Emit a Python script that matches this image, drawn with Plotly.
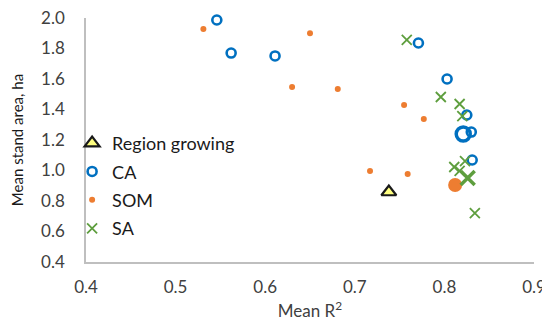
import plotly.graph_objects as go

# Data
rg_x = [0.738]
rg_y = [0.859]

ca_x = [0.546, 0.562, 0.611, 0.771, 0.803, 0.825, 0.830, 0.831]
ca_y = [1.987, 1.770, 1.751, 1.836, 1.600, 1.364, 1.252, 1.069]
ca_best_x = [0.821]
ca_best_y = [1.239]

som_x = [0.531, 0.650, 0.630, 0.681, 0.755, 0.777, 0.717, 0.759]
som_y = [1.928, 1.900, 1.548, 1.534, 1.430, 1.338, 0.997, 0.977]
som_best_x = [0.812]
som_best_y = [0.905]

sa_x = [0.758, 0.796, 0.817, 0.820, 0.823, 0.811, 0.817, 0.834]
sa_y = [1.856, 1.482, 1.436, 1.357, 1.062, 1.023, 0.997, 0.721]
sa_best_x = [0.826]
sa_best_y = [0.951]

x_ticks = [0.4, 0.5, 0.6, 0.7, 0.8, 0.9]
y_ticks = [0.4, 0.6, 0.8, 1.0, 1.2, 1.4, 1.6, 1.8, 2.0]

BLUE = "#0070C0"
ORANGE = "#ED7D31"
GREEN = "#5E9E3E"
FONT = "Lato"

fig = go.Figure()

fig.add_trace(go.Scatter(x=ca_x, y=ca_y, mode="markers", name="CA", legendrank=2,
                         legendgroup="ca", cliponaxis=False,
                         marker=dict(symbol="circle-open", size=9, color=BLUE,
                                     line=dict(width=2.6, color=BLUE))))
fig.add_trace(go.Scatter(x=ca_best_x, y=ca_best_y, mode="markers", showlegend=False,
                         legendgroup="ca", cliponaxis=False,
                         marker=dict(symbol="circle-open", size=14, color=BLUE,
                                     line=dict(width=3.5, color=BLUE))))
fig.add_trace(go.Scatter(x=som_x, y=som_y, mode="markers", name="SOM", legendrank=3,
                         legendgroup="som", cliponaxis=False,
                         marker=dict(symbol="circle", size=6, color=ORANGE)))
fig.add_trace(go.Scatter(x=som_best_x, y=som_best_y, mode="markers", showlegend=False,
                         legendgroup="som", cliponaxis=False,
                         marker=dict(symbol="circle", size=14, color=ORANGE)))
fig.add_trace(go.Scatter(x=sa_x, y=sa_y, mode="markers", name="SA", legendrank=4,
                         legendgroup="sa", cliponaxis=False,
                         marker=dict(symbol="x-thin-open", size=10, color=GREEN,
                                     line=dict(width=1.8, color=GREEN))))
fig.add_trace(go.Scatter(x=sa_best_x, y=sa_best_y, mode="markers", showlegend=False,
                         legendgroup="sa", cliponaxis=False,
                         marker=dict(symbol="x-thin-open", size=14, color=GREEN,
                                     line=dict(width=3.5, color=GREEN))))
fig.add_trace(go.Scatter(x=rg_x, y=rg_y, mode="markers", name="Region growing",
                         legendrank=1, legendgroup="rg", cliponaxis=False,
                         marker=dict(symbol="triangle-up", size=13, color="#FFFF80",
                                     line=dict(width=2.2, color="#1a1a1a"))))

fig.update_layout(
    width=542, height=324,
    margin=dict(l=78, r=16, t=10, b=70),
    paper_bgcolor="white", plot_bgcolor="white",
    font=dict(family=FONT, size=16, color="#404040"),
    showlegend=True,
    legend=dict(x=-0.031, y=0.562, xanchor="left", yanchor="top",
                traceorder="grouped", tracegroupgap=2,
                bgcolor="rgba(0,0,0,0)", itemwidth=30,
                font=dict(family=FONT, size=18, color="#1a1a1a"),
                itemsizing="trace"),
    xaxis=dict(range=[0.4, 0.9], tickvals=x_ticks,
               ticktext=[f"{v:.1f}" for v in x_ticks],
               showgrid=False, zeroline=False, showline=True, automargin=False,
               linecolor="#BFBFBF", linewidth=1.5, ticks="",
               ticklabelstandoff=9, ticklabeloverflow="allow",
               tickfont=dict(size=17, color="#404040"),
               title=dict(text="Mean R<sup>2</sup>", standoff=9,
                          font=dict(size=17, color="#404040"))),
    yaxis=dict(range=[0.4, 2.0], tickvals=y_ticks,
               ticktext=[f"{v:.1f}" for v in y_ticks],
               showgrid=False, zeroline=False, showline=True, automargin=False,
               linecolor="#BFBFBF", linewidth=1.5, ticks="",
               ticklabelstandoff=16, ticklabeloverflow="allow",
               tickfont=dict(size=17, color="#404040"),
               title=dict(text="Mean stand area, ha", standoff=14,
                          font=dict(size=15, color="#1a1a1a"))),
)

fig.write_html("out.html")
